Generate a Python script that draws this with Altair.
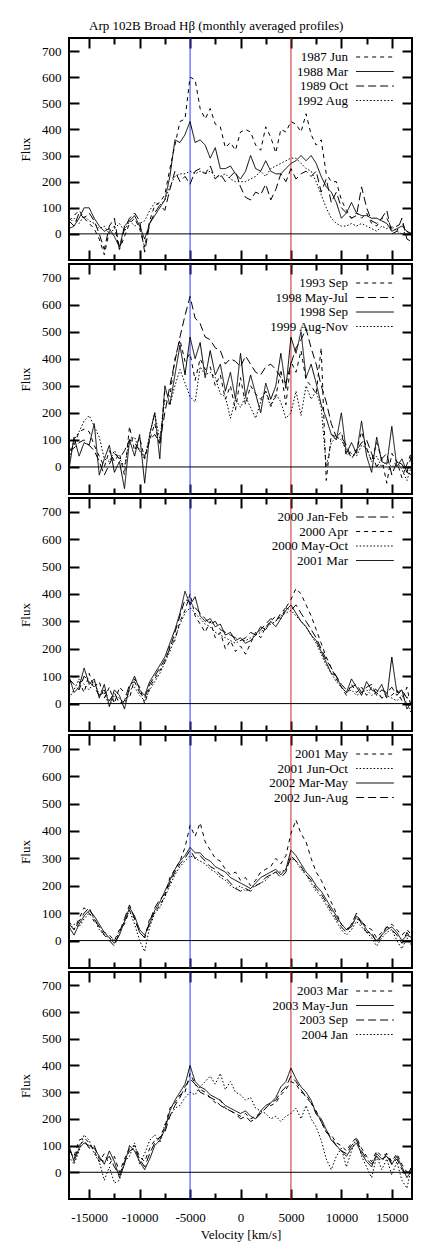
import altair as alt
import pandas as pd

FONT = "Liberation Serif"

VELOCITY = list(range(-17000, 17001, 500))
X_DOMAIN = [-17000, 17000]
Y_DOMAIN = [-100, 750]
X_MAJOR = [-15000, -10000, -5000, 0, 5000, 10000, 15000]
X_MINOR = [-12500, -7500, -2500, 2500, 7500, 12500]
Y_TICKS = [0, 100, 200, 300, 400, 500, 600, 700]
VLINE_POS = [-5000, 5000]
VLINE_NAMES = ["blue", "red"]
VLINE_COLORS = ["#3a3aff", "#cc2a2a"]

SHORT = [4, 4]
SOLID = [1, 0]
LONG = [8, 4]
DOT = [1.5, 2]

TITLE = "Arp 102B Broad H\u03b2 (monthly averaged profiles)"

# ---------------- Panel 1 ----------------
P1_LABELS = ["1987 Jun", "1988 Mar", "1989 Oct", "1992 Aug"]
P1_DASH = [SHORT, SOLID, LONG, DOT]
P1_1987_JUN = [50, 70, 90, 60, 40, 20, -20, -80, 10, 30,
               -60, -10, 40, 60, 20, -50, 50, 110, 120, 150,
               250, 340, 430, 440, 600, 590, 480, 440, 480, 420,
               410, 330, 350, 320, 390, 400, 390, 340, 320, 410,
               370, 310, 400, 390, 430, 420, 390, 460, 380, 340,
               360, 230, 200, 200, 130, 90, 60, 80, 60, 80,
               40, 30, 60, 60, 20, 30, 40, 10, -10]
P1_1988_MAR = [20, 30, 60, 100, 100, 60, 30, 10, 20, -10,
               -50, 30, 50, 70, 30, -20, 40, 70, 100, 130,
               220, 360, 350, 380, 430, 350, 360, 340, 290, 330,
               250, 250, 260, 230, 210, 240, 300, 250, 240, 280,
               240, 230, 230, 250, 270, 280, 300, 280, 300, 270,
               220, 180, 160, 120, 60, 80, 120, 80, 70, 70,
               60, 60, 50, 40, 10, 20, 30, 10, 0]
P1_1989_OCT = [50, 30, 80, 60, 80, 50, 0, -60, 30, 60,
               -60, 20, 60, 80, 50, -70, 40, 80, 110, 90,
               170, 240, 200, 220, 190, 240, 250, 230, 260, 210,
               230, 200, 220, 240, 180, 140, 130, 160, 150, 190,
               130, 170, 230, 200, 250, 210, 230, 240, 220, 240,
               160, 210, 120, 160, 100, 80, 60, 70, 180, 100,
               50, 40, 60, 90, 0, 10, 60, -20, -30]
P1_1992_AUG = [40, 60, 40, 70, 50, 40, 20, 30, 0, 20,
               40, 10, 50, 30, 40, 50, 90, 120, 110, 130,
               180, 220, 230, 230, 240, 230, 240, 230, 240, 220,
               220, 230, 210, 200, 200, 200, 210, 220, 240, 220,
               250, 260, 270, 280, 290, 290, 270, 250, 240, 200,
               150, 100, 60, 40, 30, 30, 40, 30, 40, 30,
               20, 10, 30, 20, 30, 10, 0, 10, 0]

# ---------------- Panel 2 ----------------
P2_LABELS = ["1993 Sep", "1998 May-Jul", "1998 Sep", "1999 Aug-Nov"]
P2_DASH = [SHORT, LONG, SOLID, DOT]
P2_1993_SEP = [60, 80, 130, 140, 130, 80, 40, 0, 60, 20,
               50, -30, 150, 60, 110, 30, 100, 160, 80, 280,
               260, 400, 470, 390, 420, 320, 400, 360, 370, 300,
               340, 250, 300, 210, 330, 230, 300, 270, 250, 280,
               230, 260, 360, 230, 390, 350, 430, 320, 300, 270,
               440, -50, 120, 110, 130, 40, 60, 60, 130, 70,
               20, 90, 30, -60, 50, 20, -40, 10, 60]
P2_1998_MAYJUL = [60, 70, 90, 100, 80, 60, 20, -30, 10, 50,
                  30, 60, 100, 90, 60, 40, 100, 120, 90, 200,
                  300, 390, 480, 560, 630, 550, 530, 480, 470, 440,
                  430, 380, 400, 390, 370, 410, 380, 350, 340, 370,
                  380, 360, 330, 310, 380, 440, 470, 510, 440, 380,
                  300, 240, 160, 110, 110, 80, 30, 60, 90, 100,
                  50, 0, 30, 50, -30, 20, 10, -20, 50]
P2_1998_SEP = [-10, 110, 40, 90, 80, 160, -30, 30, 80, -20,
               20, -80, 100, 40, 120, -60, 120, 200, 30, 300,
               230, 340, 450, 340, 480, 400, 460, 330, 430, 340,
               380, 280, 350, 250, 420, 260, 340, 270, 200, 310,
               250, 300, 420, 290, 480, 420, 500, 330, 380, 310,
               230, 180, 120, 100, 200, 50, 90, 50, 170, 40,
               -20, 110, 20, 10, 150, 0, 30, -20, -30]
P2_1999_AUGNOV = [20, 100, 130, 170, 190, 150, 110, 30, 20, 60,
                  30, 0, 100, 110, 60, 30, 120, 200, 100, 250,
                  230, 300, 360, 310, 260, 240, 370, 340, 350, 330,
                  270, 260, 180, 250, 220, 260, 220, 180, 240, 280,
                  220, 270, 240, 180, 200, 280, 190, 300, 250, 280,
                  220, 0, 90, 110, 100, 60, 50, 40, 80, 70,
                  20, 40, 0, 20, 0, 20, -10, -50, 10]

# ---------------- Panel 3 ----------------
P3_LABELS = ["2000 Jan-Feb", "2000 Apr", "2000 May-Oct", "2001 Mar"]
P3_DASH = [LONG, SHORT, DOT, SOLID]
P3_2000_JANFEB = [90, 70, 50, 100, 80, 60, 30, 50, 10, 40,
                  0, 10, 70, 80, 40, 20, 70, 100, 130, 160,
                  200, 260, 320, 380, 370, 350, 330, 310, 290, 300,
                  270, 260, 250, 240, 230, 240, 260, 250, 270, 290,
                  310, 300, 330, 350, 340, 360, 330, 300, 270, 240,
                  200, 160, 130, 100, 70, 50, 60, 70, 40, 60,
                  70, 30, 50, 40, 60, 30, 50, 20, 30]
P3_2000_APR = [70, 100, 80, 40, 110, 60, 80, 20, 60, 0,
               60, 40, 20, 90, 60, 0, 60, 90, 120, 150,
               210, 230, 300, 340, 400, 320, 290, 260, 300, 240,
               260, 200, 230, 190, 210, 180, 220, 260, 240, 280,
               300, 320, 310, 350, 380, 420, 400, 360, 320, 270,
               220, 170, 130, 90, 60, 30, 70, 40, 60, 30,
               60, 50, 20, 40, 30, 50, 10, 60, -30]
P3_2000_MAYOCT = [20, 50, 90, 70, 50, 80, 30, 40, -10, 30,
                  20, 0, 50, 60, 30, 10, 50, 80, 110, 150,
                  190, 240, 290, 330, 350, 330, 310, 290, 280, 260,
                  250, 240, 230, 220, 230, 230, 240, 250, 260, 280,
                  290, 300, 320, 330, 340, 320, 300, 280, 250, 220,
                  180, 140, 110, 80, 60, 40, 50, 30, 40, 50,
                  30, 40, 20, 30, 20, 10, 30, 0, -40]
P3_2001_MAR = [100, 40, 60, 130, 70, 90, 20, 70, -10, 50,
               30, -20, 60, 100, 50, 30, 80, 110, 140, 170,
               220, 270, 330, 410, 360, 390, 320, 300, 310, 280,
               290, 250, 260, 230, 240, 220, 230, 250, 280, 270,
               300, 280, 310, 340, 360, 330, 300, 280, 250, 230,
               190, 150, 110, 100, 60, 40, 90, 60, 30, 80,
               50, 40, 70, 20, 170, 40, 50, -20, 10]

# ---------------- Panel 4 ----------------
P4_LABELS = ["2001 May", "2001 Jun-Oct", "2002 Mar-May", "2002 Jun-Aug"]
P4_DASH = [SHORT, DOT, SOLID, LONG]
P4_2001_MAY = [70, 40, 80, 120, 100, 70, 50, 30, 20, 0,
               40, 60, 110, 80, 30, 10, 80, 100, 130, 160,
               230, 260, 290, 340, 420, 380, 430, 360, 330, 300,
               290, 260, 240, 250, 220, 230, 200, 220, 250, 260,
               270, 300, 280, 310, 390, 440, 390, 360, 300, 250,
               220, 180, 140, 100, 60, 40, 60, 80, 70, 50,
               40, 10, 30, 50, 60, 40, 20, 40, 20]
P4_2001_JUNOCT = [40, 60, 50, 80, 100, 80, 40, 20, 10, 0,
                  30, 70, 110, 60, 0, -40, 50, 100, 120, 160,
                  200, 240, 270, 290, 310, 300, 290, 280, 260, 250,
                  230, 220, 200, 190, 200, 180, 190, 200, 210, 220,
                  240, 250, 250, 260, 300, 290, 260, 240, 210, 180,
                  160, 130, 100, 70, 40, 20, 40, 70, 50, 30,
                  10, -20, 10, 30, 40, 0, -30, 10, -20]
P4_2002_MARMAY = [50, 20, 60, 90, 110, 90, 60, 30, 10, -10,
                  20, 70, 120, 90, 40, 20, 60, 110, 140, 180,
                  220, 260, 290, 310, 340, 320, 320, 300, 290, 270,
                  260, 250, 230, 220, 210, 200, 190, 210, 230, 240,
                  250, 260, 240, 260, 330, 310, 280, 250, 230, 200,
                  180, 150, 120, 90, 60, 40, 50, 90, 70, 40,
                  20, 0, 20, 40, 50, 30, 0, 20, 10]
P4_2002_JUNAUG = [60, 40, 70, 100, 120, 80, 50, 20, 0, -20,
                  30, 80, 130, 80, 30, 10, 70, 120, 150, 170,
                  210, 250, 280, 300, 330, 300, 310, 290, 270, 260,
                  240, 230, 210, 190, 180, 190, 180, 200, 210, 230,
                  240, 250, 230, 250, 310, 290, 270, 240, 220, 190,
                  170, 140, 110, 80, 50, 30, 60, 100, 60, 30,
                  30, -10, 20, 50, 40, 20, -10, 30, 0]

# ---------------- Panel 5 ----------------
P5_LABELS = ["2003 Mar", "2003 May-Jun", "2003 Sep", "2004 Jan"]
P5_DASH = [SHORT, SOLID, LONG, DOT]
P5_2003_MAR = [80, 60, 120, 130, 110, 80, 40, 70, 30, 60,
               0, 50, 90, 100, 60, 40, 90, 120, 130, 170,
               240, 260, 290, 300, 370, 330, 310, 300, 280, 260,
               270, 240, 230, 220, 210, 220, 200, 210, 220, 240,
               250, 260, 290, 310, 340, 330, 300, 290, 260, 230,
               190, 150, 140, 110, 100, 80, 110, 130, 90, 60,
               40, 80, 60, 70, 40, 70, 30, 0, 20]
P5_2003_MAYJUN = [100, 40, 90, 110, 100, 90, 60, 30, 80, 40,
                  -20, 30, 100, 80, 40, 10, 50, 100, 120, 160,
                  230, 270, 300, 330, 400, 340, 320, 310, 290, 280,
                  270, 250, 240, 230, 220, 230, 210, 200, 230, 250,
                  260, 280, 320, 340, 390, 350, 320, 300, 270, 220,
                  200, 160, 120, 100, 80, 60, 90, 110, 70, 40,
                  20, 70, 50, 60, 30, 60, 20, -20, 10]
P5_2003_SEP = [90, 50, 100, 120, 90, 100, 50, 40, 60, 20,
               -10, 40, 80, 90, 50, 20, 70, 110, 130, 150,
               210, 250, 280, 320, 350, 330, 300, 290, 280, 270,
               250, 240, 230, 220, 200, 210, 190, 200, 220, 240,
               260, 270, 300, 320, 360, 340, 310, 280, 260, 220,
               190, 150, 130, 100, 80, 70, 100, 120, 80, 50,
               30, 60, 40, 70, 30, 50, 10, -10, 20]
P5_2004_JAN = [60, 30, 80, 140, 120, 70, 40, -30, 20, -40,
               -30, 40, 60, 110, 30, 70, 120, 140, 110, 180,
               210, 240, 250, 280, 300, 290, 320, 340, 360, 330,
               370, 310, 340, 300, 290, 270, 280, 240, 230, 220,
               200, 210, 190, 210, 220, 240, 200, 250, 200, 170,
               120, 50, 10, 60, 90, 20, 80, 130, 60, 20,
               -20, 60, 10, 50, -10, 40, -30, -60, 30]

PANELS = [
    (P1_LABELS, [P1_1987_JUN, P1_1988_MAR, P1_1989_OCT, P1_1992_AUG], P1_DASH, 222),
    (P2_LABELS, [P2_1993_SEP, P2_1998_MAYJUL, P2_1998_SEP, P2_1999_AUGNOV], P2_DASH, 230),
    (P3_LABELS, [P3_2000_JANFEB, P3_2000_APR, P3_2000_MAYOCT, P3_2001_MAR], P3_DASH, 233),
    (P4_LABELS, [P4_2001_MAY, P4_2001_JUNOCT, P4_2002_MARMAY, P4_2002_JUNAUG], P4_DASH, 233),
    (P5_LABELS, [P5_2003_MAR, P5_2003_MAYJUN, P5_2003_SEP, P5_2004_JAN], P5_DASH, 227),
]

WIDTH = 343
MAJOR_TICK = 10
MINOR_TICK = 6
LEGEND_SYMBOL_PATH = "M-2.9,0H2.9"


def tick_axis(orient, values, size, **kw):
    return alt.Axis(orient=orient, values=values, tickSize=size, offset=-size, **kw)


def make_panel(labels, series, dashes, height, last):
    rows = []
    for lab, vals in zip(labels, series):
        assert len(vals) == len(VELOCITY), lab
        for v, f in zip(VELOCITY, vals):
            rows.append({"velocity": v, "flux": f, "epoch": lab})
    df = pd.DataFrame(rows)

    xs = alt.Scale(domain=X_DOMAIN, nice=False, zero=False)
    ys = alt.Scale(domain=Y_DOMAIN, nice=False, zero=False)

    vdf = pd.DataFrame({"velocity": VLINE_POS, "lo": [Y_DOMAIN[0]] * 2,
                        "hi": [Y_DOMAIN[1]] * 2, "which": VLINE_NAMES})
    hdf = pd.DataFrame({"flux": [0], "x0": [X_DOMAIN[0]], "x1": [X_DOMAIN[1]]})
    mdf = pd.DataFrame({"velocity": X_MINOR, "flux": [0] * len(X_MINOR)})

    lines = alt.Chart(df).mark_line(strokeWidth=1, color="black", clip=True).encode(
        x=alt.X("velocity:Q", scale=xs, title=("Velocity [km/s]" if last else None),
                axis=tick_axis("bottom", X_MAJOR, MAJOR_TICK, labels=last, labelPadding=12,
                               labelExpr="'' + datum.value", titlePadding=4)),
        y=alt.Y("flux:Q", scale=ys, title="Flux",
                axis=tick_axis("left", Y_TICKS, MAJOR_TICK, labelPadding=8, titlePadding=9)),
        strokeDash=alt.StrokeDash(
            "epoch:N",
            scale=alt.Scale(domain=labels, range=dashes),
            legend=alt.Legend(
                title=None, orient="none", legendX=299, legendY=12, padding=0,
                symbolType=LEGEND_SYMBOL_PATH, symbolSize=169, symbolStrokeWidth=1,
                symbolStrokeColor="black", symbolFillColor="transparent",
                labelAlign="right", labelOffset={"expr": "-34"},
                rowPadding=0.5, labelFont=FONT, labelFontSize=13,
                labelColor="black", labelLimit=200,
            ),
        ),
    )
    vlines = alt.Chart(vdf).mark_rule(strokeWidth=1).encode(
        x=alt.X("velocity:Q", scale=xs, title=None,
                axis=tick_axis("top", X_MAJOR, MAJOR_TICK, labels=False)),
        y=alt.Y("lo:Q", scale=ys, title=None,
                axis=tick_axis("right", Y_TICKS, MAJOR_TICK, labels=False)),
        y2="hi:Q",
        color=alt.Color("which:N", scale=alt.Scale(domain=VLINE_NAMES, range=VLINE_COLORS),
                        legend=None),
    )
    hline = alt.Chart(hdf).mark_rule(strokeWidth=1, color="black").encode(
        x=alt.X("x0:Q", scale=xs, title=None,
                axis=tick_axis("bottom", X_MINOR, MINOR_TICK, labels=False)),
        x2="x1:Q",
        y=alt.Y("flux:Q", scale=ys, axis=None),
    )
    minor_top = alt.Chart(mdf).mark_point(opacity=0).encode(
        x=alt.X("velocity:Q", scale=xs, title=None,
                axis=tick_axis("top", X_MINOR, MINOR_TICK, labels=False)),
        y=alt.Y("flux:Q", scale=ys, axis=None),
    )
    return alt.layer(vlines, hline, lines, minor_top).resolve_axis(
        x="independent", y="independent"
    ).properties(width=WIDTH, height=height)


charts = []
for i, (labels, series, dashes, h) in enumerate(PANELS):
    charts.append(make_panel(labels, series, dashes, h, i == len(PANELS) - 1))

chart = alt.vconcat(*charts, spacing=0).resolve_scale(
    strokeDash="independent"
).properties(
    title=alt.TitleParams(TITLE, anchor="middle", offset=3),
    background="white",
    padding={"left": 10, "top": 12, "right": 5, "bottom": 0},
).configure_view(
    stroke="black", strokeWidth=2
).configure_axis(
    domain=False, grid=False, tickColor="black", tickWidth=2,
    labelFont=FONT, labelFontSize=13, labelColor="black",
    titleFont=FONT, titleFontSize=13, titleFontWeight="normal", titleColor="black",
).configure_title(
    font=FONT, fontSize=13, fontWeight="normal", color="black"
)

chart.save("out.html", embed_options={"renderer": "svg", "actions": False})
